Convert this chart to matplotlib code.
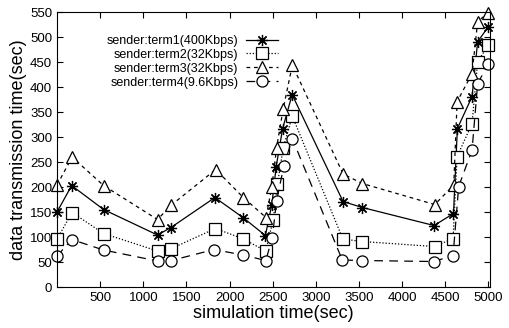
import matplotlib
matplotlib.use('Agg')
import matplotlib.pyplot as plt

t1_x = [0, 170, 540, 1165, 1320, 1830, 2155, 2415, 2490, 2540, 2615, 2725, 3315, 3540, 4370, 4595, 4640, 4810, 4875, 5000]
t1_y = [150, 203, 155, 104, 119, 179, 139, 103, 165, 241, 317, 385, 171, 159, 123, 147, 317, 381, 491, 521]

t2_x = [0, 175, 540, 1165, 1325, 1835, 2150, 2418, 2505, 2555, 2622, 2727, 3313, 3538, 4375, 4590, 4637, 4810, 4875, 5000]
t2_y = [96, 149, 107, 72, 77, 117, 97, 72, 134, 206, 279, 342, 96, 91, 81, 97, 261, 327, 451, 484]

t3_x = [0, 175, 540, 1165, 1325, 1839, 2160, 2422, 2490, 2545, 2622, 2727, 3316, 3540, 4378, 4598, 4637, 4810, 4875, 5000]
t3_y = [204, 260, 203, 135, 164, 235, 179, 139, 201, 279, 357, 444, 226, 207, 165, 204, 371, 427, 531, 549]

t4_x = [0, 170, 540, 1165, 1325, 1820, 2155, 2420, 2495, 2545, 2630, 2727, 3306, 3540, 4367, 4590, 4655, 4810, 4875, 5000]
t4_y = [62, 95, 74, 52, 53, 75, 64, 53, 99, 173, 243, 297, 54, 53, 51, 63, 201, 274, 407, 447]

labels = ['sender:term1(400Kbps)', 'sender:term2(32Kbps)',
          'sender:term3(32Kbps)', 'sender:term4(9.6Kbps)']
x_ticks = [500, 1000, 1500, 2000, 2500, 3000, 3500, 4000, 4500, 5000]
y_ticks = list(range(0, 551, 50))

plt.rcParams['font.family'] = ['Liberation Sans', 'DejaVu Sans']

fig = plt.figure(figsize=(5.09, 3.28), dpi=100)
ax = fig.add_axes([0.112, 0.125, 0.851, 0.838])

common = dict(color='black', lw=0.9, ms=8, mew=0.9, clip_on=False)
ax.plot(t1_x, t1_y, ls='-', marker=(8, 2, 0), label=labels[0], **common)
ax.plot(t2_x, t2_y, ls=(0, (1, 1.5)), marker='s', mfc='white', label=labels[1], **common)
ax.plot(t3_x, t3_y, ls=(0, (3, 3)), marker='^', mfc='white', label=labels[2], **common)
ax.plot(t4_x, t4_y, ls=(0, (7, 5)), marker='o', mfc='white', label=labels[3], **common)

ax.set_xlim(0, 5020)
ax.set_ylim(0, 550)
ax.set_xticks(x_ticks)
ax.set_yticks(y_ticks)
ax.tick_params(direction='in', top=True, right=True, labelsize=9.5, length=4)
ax.set_xlabel('simulation time(sec)', fontsize=13, labelpad=1)
ax.set_ylabel('data transmission time(sec)', fontsize=13, labelpad=2)

leg = ax.legend(loc='upper left', bbox_to_anchor=(0.1, 0.94), frameon=False, markerfirst=False,
                fontsize=9, handlelength=2.6, labelspacing=0.15, borderpad=0, handletextpad=0.6)
for t in leg.get_texts():
    t.set_ha('right')

fig.savefig('out.png', dpi=100)
